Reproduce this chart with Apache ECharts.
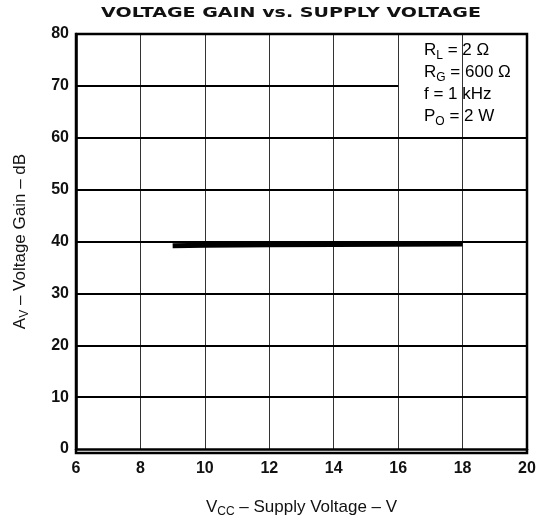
<!DOCTYPE html>
<html>
<head>
<meta charset="utf-8">
<script src="https://cdn.jsdelivr.net/npm/echarts@6/dist/echarts.min.js"></script>
<style>
  html, body { margin: 0; padding: 0; background: #fff; }
  #chart { width: 542px; height: 523px; }
</style>
</head>
<body>
<div id="chart"></div>
<script>
  // supply voltage (V) vs. voltage gain (dB)
  var vcc  = [9, 10, 12, 14, 16, 18];
  var gain = [39.2, 39.3, 39.35, 39.4, 39.45, 39.5];
  // axis ticks
  var xTicks = [6, 8, 10, 12, 14, 16, 18, 20];
  var yTicks = [10, 20, 30, 40, 50, 60, 70];
  // the 70 dB grid line stops where the conditions box starts
  var boxLeft = 16, boxBottom = 70;

  var FONT = 'Liberation Sans';
  var chart = echarts.init(document.getElementById('chart'));

  // horizontal grid lines, drawn as mark lines so one can be cut short
  var hLines = yTicks.map(function (v) {
    var end = v >= boxBottom ? boxLeft : xTicks[xTicks.length - 1];
    return [{ coord: [xTicks[0], v] }, { coord: [end, v] }];
  });

  var rich = {
    n:   { fontFamily: FONT, fontSize: 17, color: '#111', lineHeight: 22 },
    sub: { fontFamily: FONT, fontSize: 12, color: '#111', lineHeight: 13, verticalAlign: 'bottom' }
  };

  chart.setOption({
    animation: false,
    grid: { left: 76, right: 15, top: 34, bottom: 70 },
    xAxis: {
      type: 'value', min: 6, max: 20, interval: 2,
      axisLine: { lineStyle: { color: '#000', width: 2.5 } },
      axisTick: { show: false },
      axisLabel: { fontFamily: FONT, fontSize: 16, fontWeight: 'bold', color: '#111', margin: 12 },
      splitLine: { show: true, lineStyle: { color: '#333', width: 1 } },
      name: '{n|V}{sub|CC}{n| – Supply Voltage – V}',
      nameLocation: 'middle', nameGap: 47,
      nameTextStyle: { rich: rich }
    },
    yAxis: {
      type: 'value', min: 0, max: 80, interval: 10,
      axisLine: { show: true, lineStyle: { color: '#000', width: 2.5 } },
      axisTick: { show: false },
      axisLabel: { fontFamily: FONT, fontSize: 16, fontWeight: 'bold', color: '#111', margin: 7 },
      splitLine: { show: false },
      name: '{n|A}{sub|V}{n| – Voltage Gain – dB}',
      nameLocation: 'middle', nameGap: 45,
      nameTextStyle: { rich: rich }
    },
    graphic: [
      // title, stretched to the wide letter spacing of the original
      { type: 'text', x: 291, y: 13, scaleX: 1.36, silent: true,
        style: {
          text: 'VOLTAGE GAIN vs. SUPPLY VOLTAGE',
          align: 'center', verticalAlign: 'middle',
          fontFamily: 'DejaVu Sans', fontWeight: 'bold', fontSize: 14, fill: '#111'
        } },
      // frame top and right
      { type: 'rect', shape: { x: 76, y: 34, width: 451, height: 419 }, silent: true,
        style: { fill: 'none', stroke: '#000', lineWidth: 2.5 }, z: 100 },
      { type: 'text', left: 424, top: 42, silent: true,
        style: {
          text: '{n|R}{sub|L}{n| = 2 Ω}\n{n|R}{sub|G}{n| = 600 Ω}\n{n|f = 1 kHz}\n{n|P}{sub|O}{n| = 2 W}',
          rich: rich
        } }
    ],
    series: [
      {
        type: 'line', data: [], silent: true,
        markLine: {
          symbol: 'none', silent: true, label: { show: false },
          lineStyle: { color: '#000', width: 2, type: 'solid' },
          data: hLines
        }
      },
      {
        type: 'line', showSymbol: false, silent: true,
        lineStyle: { color: '#000', width: 5 },
        data: vcc.map(function (v, i) { return [v, gain[i]]; })
      }
    ]
  });
</script>
</body>
</html>
